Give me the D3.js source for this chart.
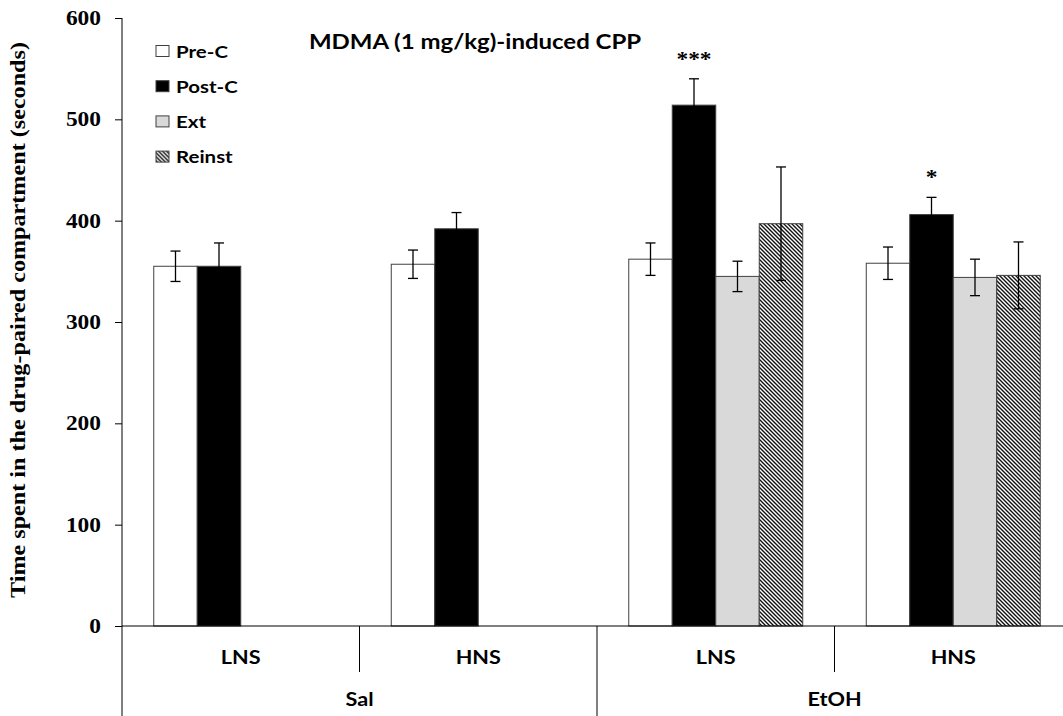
<!DOCTYPE html>
<html>
<head>
<meta charset="utf-8">
<script src="https://cdn.jsdelivr.net/npm/d3@7"></script>
<style>
  body { margin: 0; background: #fff; }
  svg { display: block; }
</style>
</head>
<body>
<div id="chart"></div>
<script>
// values
const groups = ["LNS", "HNS", "LNS", "HNS"];
const treatments = ["Sal", "EtOH"];
const series = ["Pre-C", "Post-C", "Ext", "Reinst"];
const preC = [355, 357, 362, 358];
const preCErr = [15, 14, 16, 16];
const postC = [355, 392, 514, 406];
const postCErr = [23, 16, 26, 17];
const ext = [null, null, 345, 344];
const extErr = [null, null, 15, 18];
const reinst = [null, null, 397, 346];
const reinstErr = [null, null, 56, 33];
const signif = ["", "", "***", "*"];
const yTicks = [0, 100, 200, 300, 400, 500, 600];

const W = 1063, H = 716;
const plot = { left: 122, right: 1072, top: 18, bottom: 626 };
const SX = 1.17; // the original image is a bit wider than tall, text looks stretched

const svg = d3.select("#chart").append("svg")
  .attr("width", W).attr("height", H);

const defs = svg.append("defs");
const pat = defs.append("pattern")
  .attr("id", "hatch")
  .attr("patternUnits", "userSpaceOnUse")
  .attr("width", 4).attr("height", 4);
pat.append("rect").attr("width", 4).attr("height", 4).attr("fill", "#fff");
pat.append("path")
  .attr("d", "M-1,-1 L5,5 M-1,3 L1,5 M3,-1 L5,1")
  .attr("stroke", "#111").attr("stroke-width", 1.4);

const fills = { "Pre-C": "#ffffff", "Post-C": "#000000", "Ext": "#d9d9d9", "Reinst": "url(#hatch)" };
const vals = { "Pre-C": preC, "Post-C": postC, "Ext": ext, "Reinst": reinst };
const errs = { "Pre-C": preCErr, "Post-C": postCErr, "Ext": extErr, "Reinst": reinstErr };

const x0 = d3.scaleBand().domain(d3.range(groups.length))
  .range([plot.left, plot.right]);
const x1 = d3.scaleBand().domain(series)
  .range([0, x0.bandwidth()]).paddingInner(0).paddingOuter(0.73);
const y = d3.scaleLinear().domain([0, 600]).range([plot.bottom, plot.top]);

function stretched(parent, x, yy) {
  return parent.append("text")
    .attr("transform", `translate(${x},${yy}) scale(${SX},1)`);
}

// bars
const rows = [];
groups.forEach((g, i) => {
  series.forEach(s => {
    if (vals[s][i] != null) rows.push({ i, s, v: vals[s][i], e: errs[s][i] });
  });
});

const barG = svg.append("g");
barG.selectAll("rect").data(rows).enter().append("rect")
  .attr("x", d => x0(d.i) + x1(d.s))
  .attr("y", d => y(d.v))
  .attr("width", x1.bandwidth())
  .attr("height", d => y(0) - y(d.v))
  .attr("fill", d => fills[d.s])
  .attr("stroke", "#404040")
  .attr("stroke-width", 1);

// error bars
const errG = svg.append("g").attr("stroke", "#000").attr("stroke-width", 1.3);
rows.forEach(d => {
  const cx = x0(d.i) + x1(d.s) + x1.bandwidth() / 2;
  errG.append("line").attr("x1", cx).attr("x2", cx)
    .attr("y1", y(d.v - d.e)).attr("y2", y(d.v + d.e));
  [d.v - d.e, d.v + d.e].forEach(t => {
    errG.append("line").attr("x1", cx - 5).attr("x2", cx + 5)
      .attr("y1", y(t)).attr("y2", y(t));
  });
});

// significance stars
signif.forEach((s, i) => {
  if (!s) return;
  const cx = x0(i) + x1("Post-C") + x1.bandwidth() / 2;
  stretched(svg, cx, y(postC[i] + postCErr[i]) - 13)
    .attr("text-anchor", "middle")
    .attr("font-family", "Liberation Serif")
    .attr("font-weight", "bold")
    .attr("font-size", 20)
    .text(s);
});

// y axis
const yAxis = svg.append("g")
  .attr("transform", `translate(${plot.left},0)`)
  .call(d3.axisLeft(y).tickValues(yTicks).tickSize(7).tickFormat(""));
yAxis.select(".domain").remove();
yAxis.selectAll("line").attr("stroke", "#000");
yTicks.forEach(t => {
  stretched(svg, 101, y(t) + 7)
    .attr("text-anchor", "end")
    .attr("font-family", "Liberation Serif")
    .attr("font-weight", "bold")
    .attr("font-size", 20)
    .text(t);
});
svg.append("line").attr("x1", plot.left).attr("x2", plot.left)
  .attr("y1", plot.top).attr("y2", H).attr("stroke", "#000");

svg.append("text")
  .attr("transform", "translate(25,320) rotate(-90)")
  .attr("text-anchor", "middle")
  .attr("font-family", "Liberation Serif")
  .attr("font-weight", "bold")
  .attr("font-size", 21)
  .attr("textLength", 556)
  .attr("lengthAdjust", "spacingAndGlyphs")
  .text("Time spent in the drug-paired compartment (seconds)");

// x axis with nested category labels
svg.append("line").attr("x1", plot.left).attr("x2", W)
  .attr("y1", plot.bottom).attr("y2", plot.bottom).attr("stroke", "#000");

const catFont = "Lato, 'Open Sans', sans-serif";
groups.forEach((g, i) => {
  stretched(svg, x0(i) + x0.bandwidth() / 2, 664)
    .attr("text-anchor", "middle")
    .attr("font-family", catFont).attr("font-weight", "bold")
    .attr("font-size", 18.5).text(g);
  if (i > 0) {
    svg.append("line")
      .attr("x1", x0(i)).attr("x2", x0(i))
      .attr("y1", plot.bottom).attr("y2", i === 2 ? H : 672)
      .attr("stroke", "#000");
  }
});
treatments.forEach((t, k) => {
  stretched(svg, x0(k * 2 + 1), 706)
    .attr("text-anchor", "middle")
    .attr("font-family", catFont).attr("font-weight", "bold")
    .attr("font-size", 18.5).text(t);
});

// title
stretched(svg, 475, 49)
  .attr("text-anchor", "middle")
  .attr("font-family", catFont).attr("font-weight", "bold")
  .attr("font-size", 20.5)
  .text("MDMA (1 mg/kg)-induced CPP");

// legend
const legend = svg.append("g").attr("transform", "translate(156,51)");
series.forEach((s, k) => {
  const g = legend.append("g").attr("transform", `translate(0,${k * 35.2})`);
  g.append("rect").attr("x", 0).attr("y", -5.5).attr("width", 13).attr("height", 11)
    .attr("fill", fills[s]).attr("stroke", "#404040");
  stretched(g, 20, 6.5)
    .attr("font-family", catFont).attr("font-weight", "bold")
    .attr("font-size", 17.5).text(s);
});
</script>
</body>
</html>
